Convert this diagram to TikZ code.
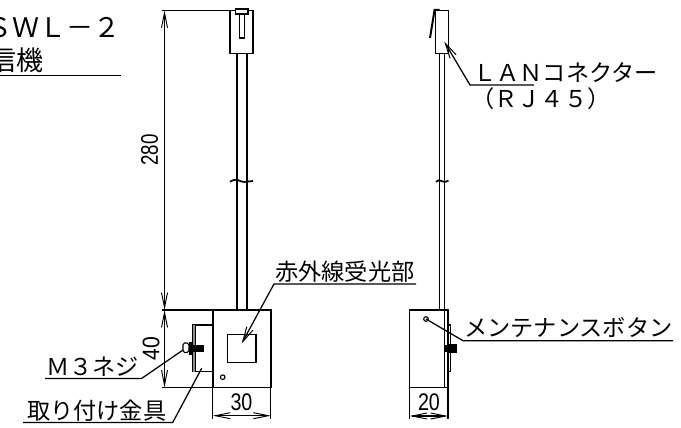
\documentclass[tikz,border=0pt]{standalone}
\usepackage{fontspec}
\setmainfont{Liberation Sans}
\newfontfamily\jpfont{Noto Sans CJK JP}
\usetikzlibrary{arrows.meta}
\tikzset{
  part/.style={line width=1.45pt,draw=black},
  thin part/.style={line width=1.1pt,draw=black},
  dimline/.style={line width=1.05pt,draw=black,{Straight Barb[length=15pt,width=6pt,line width=0.95pt]}-{Straight Barb[length=15pt,width=6pt,line width=0.95pt]}},
  leader/.style={line width=1.25pt,draw=black},
  leaderarrow/.style={leader,-{Straight Barb[length=15pt,width=7pt,line width=1pt]}},
  jp/.style={font=\jpfont\fontsize{23.2}{24}\selectfont,inner sep=0pt,text=black},
  dimtext/.style={font=\fontsize{24}{24}\selectfont,inner sep=0pt,text=black},
}
\newcommand{\cond}[1]{\scalebox{.82}[1]{#1}}
\begin{document}
\begin{tikzpicture}[x=1pt,y=-1pt]
\useasboundingbox (0,0) rectangle (681,428);
\fill[white] (0,0) rectangle (681,428);
% title
\node[jp,anchor=base east,font=\jpfont\fontsize{27}{28}\selectfont] (title) at (120.5,38) {ＳＷＬ－２};
\node[jp,anchor=base east,font=\jpfont\fontsize{27}{28}\selectfont] (titleb) at (44,71) {信機};
\coordinate (tl) at (0,75.7); \coordinate (tr) at (120.5,75.7);
\draw[leader] (tl) -- (tr);
% front view: connector
\coordinate (fcA) at (230,10.3); \coordinate (fcB) at (253,53.5);
\draw[part] (fcA) rectangle (fcB);
\draw[part,fill=white] (235.3,9.2) rectangle (248,13.8);
\draw[thin part] (239.3,13.8) -- (239.3,38) (244.3,13.8) -- (244.3,38);
\draw[line width=1.9pt] (239,38) -- (244.6,38);
% front cable
\draw[part] (236.8,53.5) -- (236.8,310) (247,53.5) -- (247,310);
\draw[line width=1.7pt,draw=black] (230,181.8) .. controls (234,179) and (237,179.5) .. (241,181.3) .. controls (245,183) and (249,181) .. (253,181);
% front body
\coordinate (bodyA) at (212.8,310); \coordinate (bodyB) at (270.8,387.5);
\draw[part] (bodyA) rectangle (bodyB);
\draw[part] (227.3,334.3) rectangle (256,362.3);
\draw[thin part] (222.7,377.2) circle (2.3);
% bracket
\draw[part] (212.8,325) -- (192.8,325) -- (192.8,371.7) -- (212.8,371.7);
\draw[fill=black!45,draw=none] (192.8,325) rectangle (195.6,371.7);
\draw[thin part] (195.6,325) -- (195.6,371.7);
% screw
\draw[thin part,fill=white,rounded corners=1.6pt] (183,343) rectangle (188.8,352.5);
\fill[black] (188.6,342) rectangle (193,355);
\fill[black] (193,344.6) rectangle (204.4,352);
% dimensions front
\coordinate (d0) at (162,10.3); \coordinate (d1) at (162,310); \coordinate (d2) at (162,387.5);
\draw[thin part] (d0) -- (fcA);
\draw[thin part] (d1) -- (bodyA);
\draw[thin part] (bodyA) -- (bodyA-|bodyB);
\draw[thin part] (d2) -- (bodyB);
\coordinate (dl0) at (164.5,10.3); \coordinate (dl1) at (164.5,310); \coordinate (dl2) at (164.5,387.5);
\draw[dimline] (dl0) -- (dl1);
\draw[dimline] (dl1) -- (dl2);
\node[dimtext,rotate=90] (n280) at (149.5,150) {\scalebox{.78}[1]{280}};
\node[dimtext,rotate=90] (n40) at (151,348.5) {\scalebox{.88}[1]{40}};
\coordinate (e30a) at (212.8,418.5); \coordinate (e30b) at (270.8,418.5);
\draw[thin part] (bodyA|-bodyB) -- (e30a);
\draw[thin part] (bodyB) -- (e30b);
\coordinate (a30a) at (212.8,415.7); \coordinate (a30b) at (270.8,415.7);
\draw[dimline] (a30a) -- (a30b);
\node[dimtext,anchor=base] (n30) at (241.5,410.5) {\cond{30}};
% right view: connector
\coordinate (rcA) at (435.7,10.3); \coordinate (rcB) at (448.5,53.5);
\draw[part] (rcA) rectangle (rcB);
\draw[line width=2pt,draw=black] (430,38) -- (434.6,9.8) -- (439.5,9.8);
% right cable
\draw[part] (439.5,53.5) -- (439.5,310) (444.3,53.5) -- (444.3,310);
\draw[line width=1.7pt,draw=black] (436,181.8) .. controls (438,179.5) and (440,180) .. (442,181.3) .. controls (444,182.8) and (446,181.5) .. (448.5,180.8);
% right body
\coordinate (rbA) at (409.6,310); \coordinate (rbB) at (448,387.3);
\draw[part] (rbA) rectangle (rbB);
\draw[thin part] (444.3,310) -- (444.3,387.3);
\draw[thin part] (448,325) rectangle (450.7,371.7);
\fill[black] (445,345) rectangle (448,351.5);
\fill[black] (448,343.5) rectangle (457,352.7);
\coordinate (btn) at (426,319);
\draw[thin part,fill=white] (btn) circle (2.3);
% 20 dimension
\coordinate (e20a) at (409.6,419); \coordinate (e20b) at (448,419);
\draw[thin part] (rbA|-rbB) -- (e20a);
\draw[thin part] (rbB) -- (e20b);
\coordinate (a20a) at (409.6,416); \coordinate (a20b) at (448,416);
\draw[dimline] (a20a) -- (a20b);
\node[dimtext,anchor=base] (n20) at (429,410.5) {\cond{20}};
% labels and leaders
\node[jp,anchor=base west] (lan) at (473,82) {ＬＡＮコネクター};
\node[jp,anchor=base west] (rj) at (471,108) {（ＲＪ４５）};
\coordinate (lanU) at (534,85); \coordinate (lanK) at (470,85); \coordinate (lanT) at (444.3,41.7);
\draw[leaderarrow] (lanU) -- (lanK) -- (lanT);
\node[jp,anchor=base west] (ir) at (275,280) {赤外線受光部};
\coordinate (irU) at (416,284); \coordinate (irK) at (274,284); \coordinate (irT) at (241.7,343.5);
\draw[leaderarrow] (irU) -- (irK) -- (irT);
\node[jp,anchor=base west] (m3) at (46,375) {Ｍ３ネジ};
\coordinate (m3U) at (45,378.4); \coordinate (m3K) at (141.7,378.4); \coordinate (m3T) at (183,350);
\draw[leader] (m3U) -- (m3K) -- (m3T);
\node[jp,anchor=base west] (kg) at (27,419) {取り付け金具};
\coordinate (kgU) at (23,422.5); \coordinate (kgK) at (172.7,422.5); \coordinate (kgT) at (201.7,368.3);
\draw[leader] (kgU) -- (kgK) -- (kgT);
\node[jp,anchor=base west] (mb) at (464,336.5) {メンテナンスボタン};
\coordinate (mbU) at (673,340.7); \coordinate (mbK) at (463,340.7);
\draw[leader] (mbU) -- (mbK) -- (btn);
\end{tikzpicture}
\end{document}
